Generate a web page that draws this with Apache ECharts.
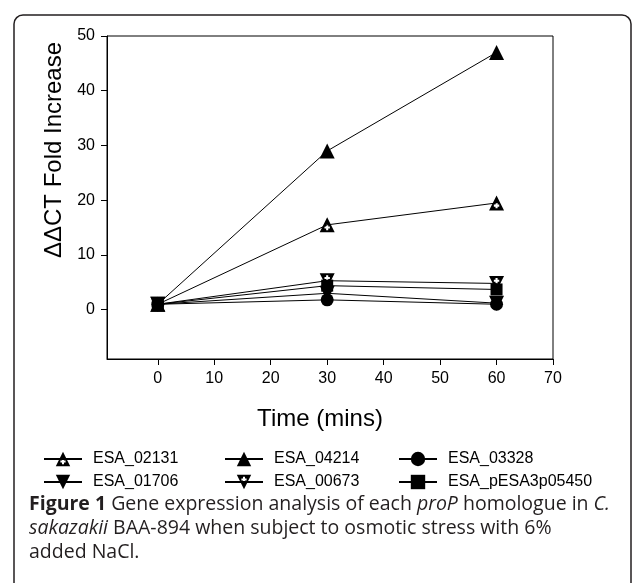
<!DOCTYPE html>
<html>
<head>
<meta charset="utf-8">
<script src="https://cdn.jsdelivr.net/npm/echarts@6/dist/echarts.min.js"></script>
<style>
  html, body { margin: 0; padding: 0; background: #fff; }
  #chart { width: 633px; height: 583px; }
</style>
</head>
<body>
<div id="chart"></div>
<script>
// time points (mins)
const times = [0, 30, 60]
// fold increase per gene
const esa02131 = [1, 15.5, 19.5]
const esa04214 = [1, 29, 47]
const esa03328 = [1, 1.8, 1.0]
const esa01706 = [1, 3.0, 1.2]
const esa00673 = [1, 5.3, 4.8]
const esaPESA = [1, 4.4, 3.7]
// tick labels
const xTicks = [0, 10, 20, 30, 40, 50, 60, 70]
const yTicks = [0, 10, 20, 30, 40, 50]

const FONT = 'Liberation Sans, Arial, sans-serif'
const CAP_FONT = 'Open Sans, sans-serif'

// open triangles with a plus inside (hole drawn with reverse winding)
const triPlusUp = 'path://M50,0L100,100L0,100Z M43,50L43,61L32,61L32,75L43,75L43,86L57,86L57,75L68,75L68,61L57,61L57,50Z'
const triPlusDown = 'path://M0,0L100,0L50,100Z M43,14L43,25L32,25L32,39L43,39L43,50L57,50L57,39L68,39L68,25L57,25L57,14Z'
const triDown = 'path://M0,0L100,0L50,100Z'

const pairs = arr => times.map((t, i) => [t, arr[i]])

const mkSeries = (name, arr, symbol, size) => ({
    name,
    type: 'line',
    data: pairs(arr),
    symbol,
    symbolSize: size,
    showAllSymbol: true,
    color: '#000',
    itemStyle: { color: '#000' },
    lineStyle: { color: '#000', width: 1 },
    animation: false
})

const chart = echarts.init(document.getElementById('chart'))

const legendBase = {
    orient: 'vertical',
    top: 446,
    itemWidth: 38,
    itemHeight: 18,
    itemGap: 7,
    textStyle: { fontFamily: FONT, fontSize: 16, color: '#000', padding: [0, 0, 0, 6] }
}

chart.setOption({
    backgroundColor: '#fff',
    animation: false,
    grid: {
        left: 107, top: 36, right: 80, bottom: 224,
        show: true, borderColor: '#000', borderWidth: 1
    },
    xAxis: {
        type: 'value', min: -9, max: 70,
        splitLine: { show: false },
        axisLine: { onZero: false, lineStyle: { color: '#000' } },
        axisTick: { show: true, length: 6, customValues: xTicks, lineStyle: { color: '#000' } },
        axisLabel: { customValues: xTicks, color: '#000', fontFamily: FONT, fontSize: 16, margin: 12 },
        name: 'Time (mins)',
        nameLocation: 'middle',
        nameGap: 48,
        nameTextStyle: { fontFamily: FONT, fontSize: 24, color: '#000', padding: [0, 20, 0, 0] }
    },
    yAxis: {
        type: 'value', min: -9, max: 50,
        splitLine: { show: false },
        axisLine: { show: true, onZero: false, lineStyle: { color: '#000' } },
        axisTick: { show: true, length: 6, customValues: yTicks, lineStyle: { color: '#000' } },
        axisLabel: { customValues: yTicks, color: '#000', fontFamily: FONT, fontSize: 16, margin: 12 }
    },
    legend: [
        Object.assign({}, legendBase, { left: 38, data: ['ESA_02131', 'ESA_01706'] }),
        Object.assign({}, legendBase, { left: 219, data: ['ESA_04214', 'ESA_00673'] }),
        Object.assign({}, legendBase, { left: 393, data: ['ESA_03328', 'ESA_pESA3p05450'] })
    ],
    graphic: [
        {
            type: 'rect',
            shape: { x: 14, y: 15, width: 617, height: 620, r: 9 },
            style: { fill: 'none', stroke: '#231f20', lineWidth: 1.5 },
            silent: true
        },
        {
            type: 'text',
            x: 54, y: 150,
            rotation: Math.PI / 2,
            style: {
                text: 'ΔΔCT Fold Increase',
                fontFamily: FONT, fontSize: 24, fill: '#000',
                textAlign: 'center', textVerticalAlign: 'middle'
            }
        },
        {
            type: 'text',
            x: 29, y: 492,
            style: {
                text: '{b|Figure 1} Gene expression analysis of each {i|proP} homologue in {i|C.}\n{i|sakazakii} BAA-894 when subject to osmotic stress with 6%\nadded NaCl.',
                fontFamily: CAP_FONT, fontSize: 19.5, fill: '#231f20', lineHeight: 24,
                rich: {
                    b: { fontFamily: CAP_FONT, fontSize: 19.5, fontWeight: 'bold', fill: '#231f20', lineHeight: 24 },
                    i: { fontFamily: CAP_FONT, fontSize: 19.5, fontStyle: 'italic', fill: '#231f20', lineHeight: 24 }
                }
            }
        }
    ],
    series: [
        mkSeries('ESA_02131', esa02131, triPlusUp, 15),
        mkSeries('ESA_04214', esa04214, 'triangle', 15),
        mkSeries('ESA_03328', esa03328, 'circle', 13),
        mkSeries('ESA_01706', esa01706, triDown, 15),
        mkSeries('ESA_00673', esa00673, triPlusDown, 15),
        mkSeries('ESA_pESA3p05450', esaPESA, 'rect', 12)
    ]
})
</script>
</body>
</html>
